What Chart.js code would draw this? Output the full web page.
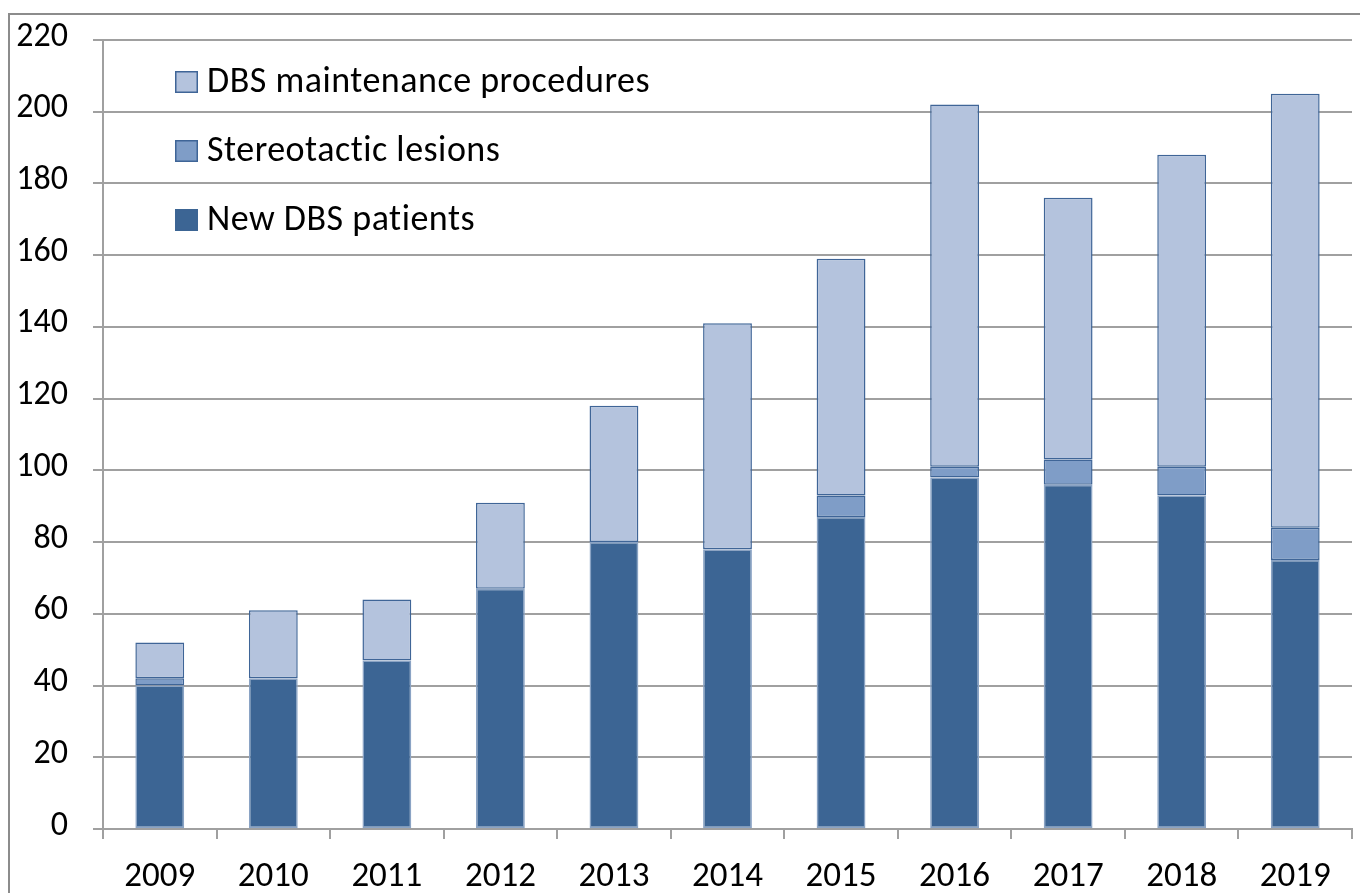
<!DOCTYPE html>
<html>
<head>
<meta charset="utf-8">
<script src="https://cdn.jsdelivr.net/npm/chart.js@4.4.0/dist/chart.umd.min.js"></script>
<style>
  html, body { margin: 0; padding: 0; background: #ffffff; overflow: hidden; }
  #wrap { position: absolute; left: 0; top: 0; width: 1360px; height: 893px; }
  #frame { position: absolute; left: 8px; top: 13px; width: 1400px; height: 1000px;
           border-left: 2px solid #8c8c8c; border-top: 2px solid #8c8c8c; pointer-events: none; }
</style>
</head>
<body>
<div id="wrap"><canvas id="c" width="1360" height="893"></canvas></div>
<div id="frame"></div>
<script>
const years = ['2009','2010','2011','2012','2013','2014','2015','2016','2017','2018','2019'];
const newDbsPatients = [40, 42, 47, 67, 80, 78, 87, 98, 96, 93, 75];
const stereotacticLesions = [2, 0, 0, 0, 0, 0, 6, 3, 7, 8, 9];
const dbsMaintenance = [10, 19, 17, 24, 38, 63, 66, 101, 73, 87, 121];
const seriesNames = ['New DBS patients', 'Stereotactic lesions', 'DBS maintenance procedures'];
const yTicks = [0, 20, 40, 60, 80, 100, 120, 140, 160, 180, 200, 220];

const FONT = "Carlito, Lato, 'Liberation Sans', sans-serif";

// Legend drawn inside the plot area, top-left, series in reverse order
const insideLegend = {
  id: 'insideLegend',
  afterDraw(chart) {
    const c = chart.ctx;
    const area = chart.chartArea;
    const ds = chart.data.datasets.slice().reverse();
    c.save();
    c.font = "36px " + FONT;
    c.fillStyle = '#000000';
    c.textBaseline = 'middle';
    c.textAlign = 'left';
    if ('letterSpacing' in c) c.letterSpacing = '0.5px';
    const x0 = area.left + 72;
    ds.forEach((d, i) => {
      const cy = area.top + 42 + i * 69;
      c.fillStyle = d.backgroundColor;
      c.fillRect(x0, cy - 11, 23, 22);
      c.strokeStyle = d.legendBorder || d.borderColor;
      c.lineWidth = 1.5;
      c.strokeRect(x0 + 0.75, cy - 10.25, 21.5, 20.5);
      c.fillStyle = '#000000';
      c.fillText(d.label, x0 + 32, cy + 1);
    });
    c.restore();
  }
};

const ctx = document.getElementById('c').getContext('2d');
new Chart(ctx, {
  type: 'bar',
  data: {
    labels: years,
    datasets: [
      { label: seriesNames[0], data: newDbsPatients, backgroundColor: '#3c6594', borderColor: '#8aa3c4', legendBorder: '#3c6594', borderWidth: 1.5, borderSkipped: false },
      { label: seriesNames[1], data: stereotacticLesions, backgroundColor: '#7f9dc7', borderColor: '#3f6597', borderWidth: 1.5, borderSkipped: false },
      { label: seriesNames[2], data: dbsMaintenance, backgroundColor: '#b4c3dd', borderColor: '#3f6597', borderWidth: 1.5, borderSkipped: false }
    ]
  },
  plugins: [insideLegend],
  options: {
    responsive: false,
    animation: false,
    devicePixelRatio: 1,
    layout: { padding: { left: 0, top: 40, right: 8, bottom: 0 } },
    datasets: { bar: { categoryPercentage: 1.0, barPercentage: 0.43 } },
    plugins: {
      tooltip: { enabled: false },
      legend: { display: false }
    },
    scales: {
      x: {
        stacked: true,
        grid: { display: true, drawOnChartArea: false, drawTicks: true, tickLength: 10, color: '#a0a0a0', lineWidth: 2, offset: true },
        border: { display: true, color: '#a0a0a0', width: 2 },
        ticks: { font: { family: FONT, size: 35 }, color: '#000000', padding: 17, maxRotation: 0 },
        afterFit: (s) => { s.height = 64; s.paddingLeft = 0; s.paddingRight = 0; }
      },
      y: {
        stacked: true,
        min: 0,
        max: 220,
        afterBuildTicks: (s) => { s.ticks = yTicks.map(v => ({ value: v })); },
        grid: { color: '#a0a0a0', lineWidth: 2, drawTicks: true, tickLength: 10 },
        border: { display: true, color: '#a0a0a0', width: 2 },
        ticks: { font: { family: FONT, size: 34 }, color: '#000000', padding: 25, labelOffset: -3 },
        afterFit: (s) => { s.width = 103; s.paddingTop = 0; s.paddingBottom = 0; }
      }
    }
  }
});
</script>
</body>
</html>
